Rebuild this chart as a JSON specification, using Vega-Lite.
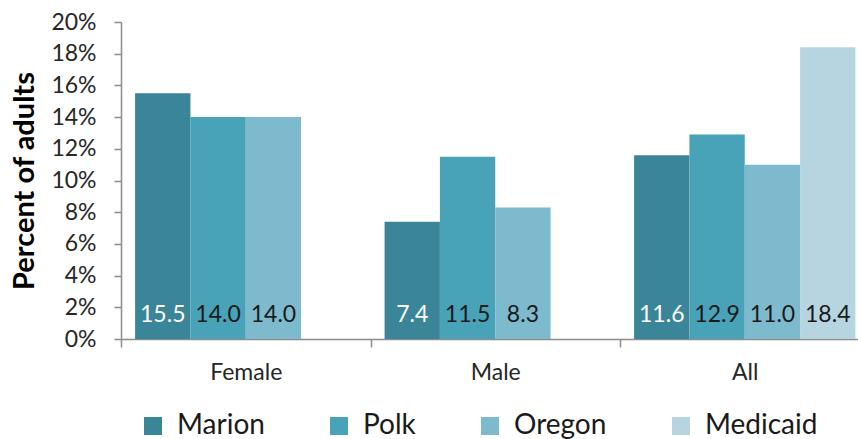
{
  "$schema": "https://vega.github.io/schema/vega-lite/v6.json",
  "width": 737,
  "height": 317,
  "autosize": {"type": "none"},
  "padding": {"left": 121, "top": 22, "right": 0, "bottom": 100},
  "background": "white",
  "config": {
    "view": {"stroke": null},
    "font": "Lato",
    "axisY": {
      "values": [0, 2, 4, 6, 8, 10, 12, 14, 16, 18, 20],
      "labelExpr": "datum.value + '%'",
      "labelOverlap": false,
      "labelBound": false,
      "grid": false,
      "domainColor": "#8c8c8c",
      "domainWidth": 1.5,
      "tickColor": "#8c8c8c",
      "tickWidth": 1.5,
      "tickSize": 7,
      "labelPadding": 18,
      "labelFontSize": 23,
      "labelColor": "#262626",
      "titleFontSize": 29,
      "titleFontWeight": "bold",
      "titleColor": "#000000",
      "titlePadding": 11
    }
  },
  "data": {
    "values": [
      {"group": "Female", "county": "Marion", "value": 15.5},
      {"group": "Female", "county": "Polk", "value": 14.0},
      {"group": "Female", "county": "Oregon", "value": 14.0},
      {"group": "Male", "county": "Marion", "value": 7.4},
      {"group": "Male", "county": "Polk", "value": 11.5},
      {"group": "Male", "county": "Oregon", "value": 8.3},
      {"group": "All", "county": "Marion", "value": 11.6},
      {"group": "All", "county": "Polk", "value": 12.9},
      {"group": "All", "county": "Oregon", "value": 11.0},
      {"group": "All", "county": "Medicaid", "value": 18.4}
    ]
  },
  "encoding": {
    "x": {
      "field": "group",
      "type": "nominal",
      "sort": ["Female", "Male", "All"],
      "scale": {"range": [0, 748.5], "paddingInner": 0, "paddingOuter": 0},
      "axis": {
        "title": null,
        "labelAngle": 0,
        "tickBand": "extent",
        "tickSize": 8,
        "tickWidth": 1.5,
        "tickColor": "#8c8c8c",
        "domainColor": "#8c8c8c",
        "domainWidth": 1.5,
        "labelPadding": 14,
        "labelFontSize": 23,
        "labelColor": "#262626"
      }
    },
    "xOffset": {
      "field": "county",
      "type": "nominal",
      "scale": {"domain": ["Marion", "Polk", "Oregon", "Medicaid"], "paddingOuter": 0.2545, "paddingInner": 0}
    }
  },
  "layer": [
    {
      "mark": {"type": "bar"},
      "encoding": {
        "y": {
          "field": "value",
          "type": "quantitative",
          "title": "Percent of adults",
          "scale": {"domain": [0, 20], "nice": false}
        },
        "color": {
          "field": "county",
          "type": "nominal",
          "scale": {
            "domain": ["Marion", "Polk", "Oregon", "Medicaid"],
            "range": ["#3A8598", "#48A2B8", "#7DBACE", "#B6D5E0"]
          },
          "legend": {
            "title": null,
            "orient": "none",
            "legendX": 18,
            "legendY": 390,
            "direction": "horizontal",
            "columns": 4,
            "symbolType": "square",
            "symbolSize": 324,
            "symbolStrokeWidth": 0,
            "symbolOpacity": 1,
            "labelFontSize": 28,
            "labelColor": "#1a1a1a",
            "labelOffset": 10,
            "columnPadding": 60,
            "padding": 0
          }
        }
      }
    },
    {
      "mark": {"type": "text", "baseline": "alphabetic", "dy": -17, "fontSize": 23},
      "encoding": {
        "y": {"datum": 0, "type": "quantitative", "title": "Percent of adults"},
        "text": {"field": "value", "type": "quantitative", "format": ".1f"},
        "color": {
          "condition": {"test": "datum.county === 'Marion'", "value": "#ffffff"},
          "value": "#1a1a1a"
        }
      }
    }
  ]
}
